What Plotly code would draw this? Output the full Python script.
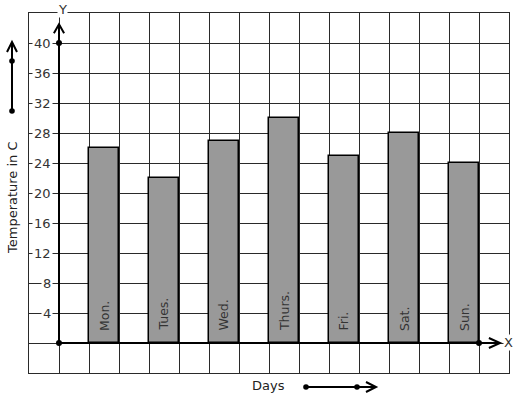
import plotly.graph_objects as go

days = ["Mon.", "Tues.", "Wed.", "Thurs.", "Fri.", "Sat.", "Sun."]
temps = [26, 22, 27, 30, 25, 28, 24]
y_ticks = [4, 8, 12, 16, 20, 24, 28, 32, 36, 40]

FONT = "DejaVu Sans"
TXT = "#333333"

# bar positions: one empty grid column between bars
xpos = [1.5 + 2 * i for i in range(len(days))]

fig = go.Figure()
fig.add_trace(go.Bar(
    x=xpos, y=temps, width=1,
    marker=dict(color="#999999", line=dict(color="black", width=1.5)),
    hoverinfo="skip", showlegend=False,
))

# dots on axes
fig.add_trace(go.Scatter(
    x=[0, 0, 14], y=[0, 40, 0], mode="markers",
    marker=dict(color="black", size=6), cliponaxis=False,
    hoverinfo="skip", showlegend=False,
))

def P(px, py):
    return ((px - 29) / 480, (373 - py) / 360)

shapes = []
# Y axis with arrow
shapes.append(dict(type="path", xref="x", yref="y",
                   path="M0,0 L0,42.5 M-0.17,41.3 L0,42.5 L0.17,41.3",
                   line=dict(color="black", width=2)))
# X axis with arrow
shapes.append(dict(type="path", xref="x", yref="y",
                   path="M0,0 L14.7,0 M14.33,0.67 L14.7,0 L14.33,-0.67",
                   line=dict(color="black", width=2)))

def ppath(points_list):
    s = ""
    for pts in points_list:
        for k, (px, py) in enumerate(pts):
            x, y = P(px, py)
            s += ("M" if k == 0 else "L") + f"{x:.5f},{y:.5f} "
    return s

# left arrow (temperature)
shapes.append(dict(type="path", xref="paper", yref="paper",
                   path=ppath([[(12, 111), (12, 42)], [(7, 52), (12, 42), (17, 52)]]),
                   line=dict(color="black", width=2)))
# bottom arrow (days)
shapes.append(dict(type="path", xref="paper", yref="paper",
                   path=ppath([[(306, 387), (376, 387)], [(366, 382), (376, 387), (366, 392)]]),
                   line=dict(color="black", width=2)))
for (px, py) in [(12, 111), (12, 61), (306, 387), (357, 387)]:
    x0, y0 = P(px - 2.8, py + 2.8)
    x1, y1 = P(px + 2.8, py - 2.8)
    shapes.append(dict(type="circle", xref="paper", yref="paper",
                       x0=x0, y0=y0, x1=x1, y1=y1,
                       fillcolor="black", line=dict(color="black", width=0)))

ann = []
for v in y_ticks:
    ann.append(dict(x=-0.2, y=v, xref="x", yref="y", text=str(v), showarrow=False,
                    xanchor="right", yanchor="middle", bgcolor="white", borderpad=1,
                    font=dict(family=FONT, size=13, color=TXT)))
for xp, d in zip(xpos, days):
    ann.append(dict(x=xp, y=1.33, xref="x", yref="y", text=d, showarrow=False,
                    textangle=-90, xanchor="center", yanchor="bottom",
                    font=dict(family=FONT, size=12.5, color=TXT)))

def label(px, py, text, angle=0, bg=None, color=TXT):
    x, y = P(px, py)
    d = dict(x=x, y=y, xref="paper", yref="paper", text=text, showarrow=False,
             xanchor="center", yanchor="middle", textangle=angle, borderpad=0,
             font=dict(family=FONT, size=13, color=color))
    if bg:
        d["bgcolor"] = bg
    ann.append(d)

label(62, 9, "Y", bg="white")
label(508, 342, "X", bg="white")
label(13, 198, "Temperature in C", angle=-90, color="#222222")
label(268, 385, "Days", color="#222222")

fig.update_layout(
    width=517, height=399, autosize=False,
    margin=dict(l=29, r=8, t=13, b=26, pad=0),
    paper_bgcolor="white", plot_bgcolor="white",
    shapes=shapes, annotations=ann,
    bargap=0,
    xaxis=dict(range=[-1, 15], tick0=-1, dtick=1, showgrid=True, gridcolor="#2a2a2a",
               gridwidth=1, zeroline=False, showticklabels=False, ticks="",
               showline=True, mirror=True, linecolor="#2a2a2a", linewidth=1,
               fixedrange=True),
    yaxis=dict(range=[-4, 44], tick0=0, dtick=4, showgrid=True, gridcolor="#2a2a2a",
               gridwidth=1, zeroline=False, showticklabels=False, ticks="",
               showline=True, mirror=True, linecolor="#2a2a2a", linewidth=1,
               fixedrange=True),
)

fig.write_html("out.html")
